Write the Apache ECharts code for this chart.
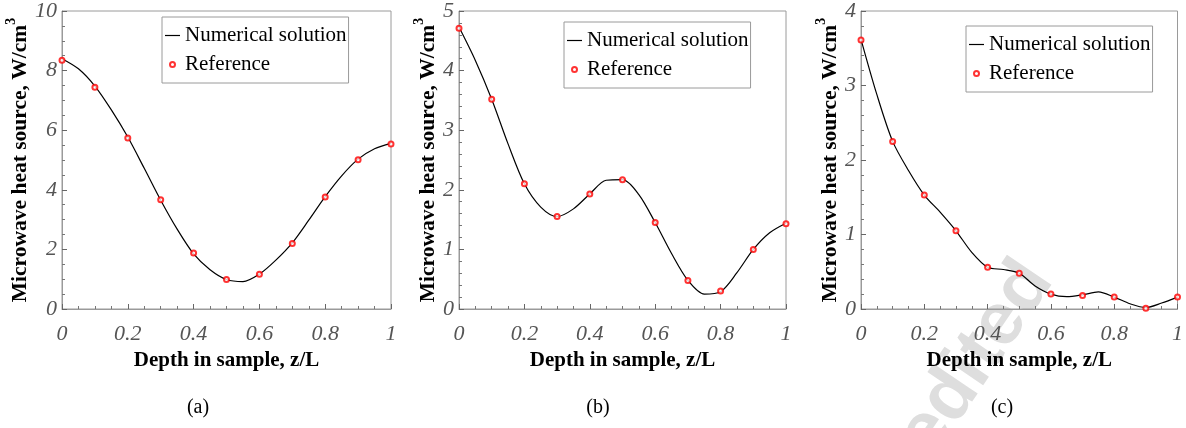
<!DOCTYPE html>
<html>
<head>
<meta charset="utf-8">
<script src="https://cdn.jsdelivr.net/npm/echarts@6/dist/echarts.min.js"></script>
<style>
  html, body { margin: 0; padding: 0; background: #fff; }
  #chart { width: 1186px; height: 428px; }
</style>
</head>
<body>
<div id="chart"></div>
<script>
// depth positions (z/L)
var xRef = [0, 0.1, 0.2, 0.3, 0.4, 0.5, 0.6, 0.7, 0.8, 0.9, 1];
var xCurve = [0, 0.05, 0.1, 0.15, 0.2, 0.25, 0.3, 0.35, 0.4, 0.45, 0.5,
              0.55, 0.6, 0.65, 0.7, 0.75, 0.8, 0.85, 0.9, 0.95, 1];

// reference points (red circles)
var refA = [8.35, 7.44, 5.74, 3.67, 1.88, 0.99, 1.17, 2.20, 3.76, 5.01, 5.54];
var refB = [4.71, 3.52, 2.10, 1.55, 1.93, 2.17, 1.45, 0.48, 0.30, 1.00, 1.43];
var refC = [3.61, 2.25, 1.53, 1.05, 0.56, 0.48, 0.20, 0.18, 0.16, 0.01, 0.16];

// numerical solution (black line)
var curveA = [8.40, 8.06, 7.48, 6.68, 5.77, 4.72, 3.65, 2.68, 1.85, 1.32, 0.99,
              0.92, 1.17, 1.64, 2.22, 2.98, 3.77, 4.47, 5.03, 5.38, 5.56];
var curveB = [4.73, 4.17, 3.52, 2.77, 2.10, 1.71, 1.55, 1.68, 1.93, 2.16, 2.17,
              1.92, 1.45, 0.93, 0.48, 0.25, 0.29, 0.61, 1.00, 1.28, 1.44];
var curveC = [3.62, 2.88, 2.25, 1.86, 1.53, 1.30, 1.05, 0.76, 0.56, 0.53, 0.48,
              0.31, 0.20, 0.165, 0.19, 0.23, 0.16, 0.07, 0.02, 0.08, 0.16];

var yMax = [10, 5, 4];
var yStep = [2, 1, 1];
var yMinorSplit = [4, 5, 5];
var panelLabels = ['(a)', '(b)', '(c)'];

var xTitle = 'Depth in sample, z/L';
var yTitle = 'Microwave heat source, W/cm';
var lineName = 'Numerical solution';
var refName = 'Reference';

function zip(xs, ys) {
    var out = [];
    for (var i = 0; i < xs.length; i++) out.push([xs[i], ys[i]]);
    return out;
}

var SERIF = '"Liberation Serif", "DejaVu Serif", serif';
var AXIS_GREY = '#9a9a9a';

var panels = [
    {grid: {left: 62, top: 10, width: 329, height: 299}, legend: {left: 162, top: 17}, label: {x: 198, y: 408}, nameGap: 25, curve: curveA, ref: refA},
    {grid: {left: 459, top: 10, width: 327, height: 299}, legend: {left: 564, top: 22}, label: {x: 598, y: 408}, nameGap: 19, curve: curveB, ref: refB},
    {grid: {left: 861, top: 10, width: 324, height: 299}, legend: {left: 966, top: 26}, label: {x: 1002, y: 408}, nameGap: 19, curve: curveC, ref: refC}
];

var option = {
    backgroundColor: '#fff',
    animation: false,
    grid: [], xAxis: [], yAxis: [], legend: [], series: [],
    graphic: []
};

// faint watermark in panel (c)
option.graphic.push({
    type: 'text', z: -10, x: 1068, y: 290, rotation: Math.PI * 0.31,
    style: {
        text: 'Unedited', fill: '#dedede', textAlign: 'right', textVerticalAlign: 'bottom',
        font: 'bold 74px "Liberation Sans", Arial, sans-serif'
    }
});

for (var i = 0; i < panels.length; i++) {
    var p = panels[i];
    option.grid.push({
        left: p.grid.left, top: p.grid.top, width: p.grid.width, height: p.grid.height,
        show: true, borderColor: AXIS_GREY, borderWidth: 1, backgroundColor: 'transparent'
    });
    option.xAxis.push({
        type: 'value', gridIndex: i, min: 0, max: 1, interval: 0.2,
        name: xTitle, nameLocation: 'middle', nameGap: 40,
        nameTextStyle: {fontFamily: SERIF, fontWeight: 'bold', fontSize: 21, color: '#000'},
        axisLine: {lineStyle: {color: AXIS_GREY, width: 1}},
        axisTick: {inside: true, length: 5, lineStyle: {color: '#666'}},
        minorTick: {show: true, splitNumber: 4, length: 3, lineStyle: {color: '#777'}},
        splitLine: {show: false},
        axisLabel: {
            margin: 14, fontFamily: SERIF, fontStyle: 'italic', fontSize: 22, color: '#555',
            formatter: function (v) {
                if (Math.abs(v) < 1e-9) return '0';
                if (Math.abs(v - 1) < 1e-9) return '1';
                return v.toFixed(1);
            }
        }
    });
    option.yAxis.push({
        type: 'value', gridIndex: i, min: 0, max: yMax[i], interval: yStep[i],
        name: '{t|' + yTitle + '}{s|3}', nameLocation: 'middle', nameGap: p.nameGap,
        nameRotate: 90,
        nameTextStyle: {
            rich: {
                t: {fontFamily: SERIF, fontWeight: 'bold', fontSize: 21.5, color: '#000', lineHeight: 27, verticalAlign: 'bottom'},
                s: {fontFamily: SERIF, fontWeight: 'bold', fontSize: 14, color: '#000', lineHeight: 27, verticalAlign: 'top'}
            }
        },
        axisLine: {show: true, lineStyle: {color: AXIS_GREY, width: 1}},
        axisTick: {show: true, inside: true, length: 5, lineStyle: {color: '#666'}},
        minorTick: {show: true, splitNumber: yMinorSplit[i], length: 3, lineStyle: {color: '#777'}},
        splitLine: {show: false},
        axisLabel: {margin: 5, fontFamily: SERIF, fontStyle: 'italic', fontSize: 22, color: '#555'}
    });
    option.legend.push({
        left: p.legend.left, top: p.legend.top, orient: 'vertical',
        backgroundColor: '#fff', borderColor: AXIS_GREY, borderWidth: 1, borderRadius: 0,
        padding: [8, 2, 8, 3], itemGap: 8, itemWidth: 15, itemHeight: 5,
        textStyle: {fontFamily: SERIF, fontSize: 21, color: '#000', lineHeight: 20},
        data: [
            {name: lineName, icon: 'path://M0,4.4L15,4.4L15,5.6L0,5.6Z'},
            {name: refName}
        ]
    });
    option.series.push({
        name: lineName, type: 'line', xAxisIndex: i, yAxisIndex: i,
        data: zip(xCurve, p.curve), smooth: 0.3, symbol: 'none',
        lineStyle: {color: '#000', width: 1.2}, itemStyle: {color: '#000'}
    });
    option.series.push({
        name: refName, type: 'scatter', xAxisIndex: i, yAxisIndex: i,
        data: zip(xRef, p.ref), symbol: 'emptyCircle', symbolSize: 5, z: 5,
        itemStyle: {color: '#ff0000', borderWidth: 1}
    });
    option.graphic.push({
        type: 'text', x: p.label.x, y: p.label.y,
        style: {text: panelLabels[i], fill: '#000', textAlign: 'center', textVerticalAlign: 'middle',
                font: '20px ' + SERIF}
    });
}

var chart = echarts.init(document.getElementById('chart'), null, {renderer: 'canvas'});
chart.setOption(option);
</script>
</body>
</html>
